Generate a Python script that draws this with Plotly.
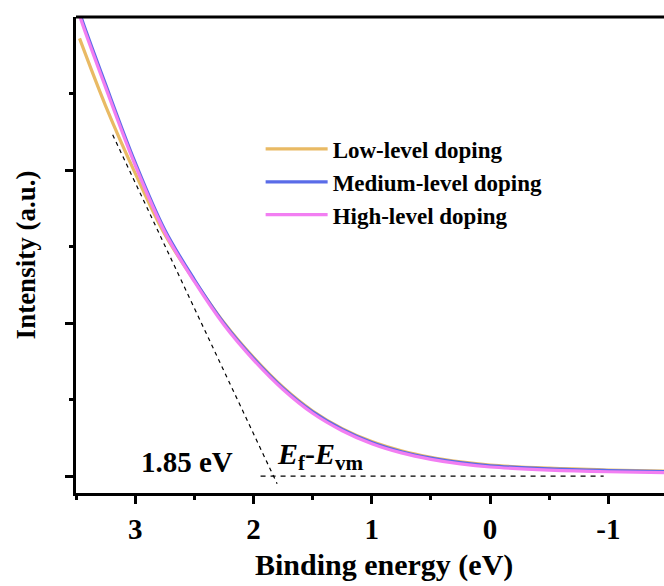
import plotly.graph_objects as go

# Binding energy grid (eV)
energy = [3.49, 3.47, 3.25, 3.0, 2.75, 2.5, 2.25, 2.0, 1.75, 1.5, 1.25, 1.0,
          0.75, 0.5, 0.25, 0.0, -0.5, -1.0, -1.5]

low_level = [None, 2.86, 2.42, 1.98, 1.58, 1.278, 1.004, 0.776, 0.581, 0.426, 0.311,
             0.226, 0.166, 0.123, 0.093, 0.072, 0.052, 0.040, 0.032]
medium_level = [3.09, 3.03, 2.56, 2.05, 1.61, 1.285, 1.0, 0.77, 0.575, 0.42, 0.305,
                0.22, 0.16, 0.118, 0.088, 0.068, 0.048, 0.037, 0.030]
high_level = [3.07, 3.01, 2.54, 2.032, 1.595, 1.272, 0.989, 0.76, 0.566, 0.411, 0.297,
              0.212, 0.152, 0.110, 0.080, 0.060, 0.040, 0.029, 0.023]

series_names = ["Low-level doping", "Medium-level doping", "High-level doping"]
series_colors = ["#E9BA64", "#5A6CE8", "#F27EF2"]

# Tangent / baseline guides (data coordinates)
tangent_x = [3.19, 1.80]
tangent_y = [2.23, -0.05]
base_x = [1.94, -0.96]
base_y = [0.0, 0.0]

x_tickvals = [3, 2, 1, 0, -1]
x_ticktext = ["3", "2", "1", "0", "-1"]

FONT = "Liberation Serif"

fig = go.Figure()

for name, vals, col in zip(series_names, [low_level, medium_level, high_level], series_colors):
    fig.add_trace(go.Scatter(
        x=energy, y=vals, name="<b>" + name + "</b>", mode="lines",
        line=dict(color=col, width=3.2, shape="spline", smoothing=1.0),
        connectgaps=False,
    ))

fig.add_trace(go.Scatter(x=tangent_x, y=tangent_y, mode="lines", showlegend=False,
                         line=dict(color="black", width=1.2, dash="4px,4px")))
fig.add_trace(go.Scatter(x=base_x, y=base_y, mode="lines", showlegend=False,
                         line=dict(color="black", width=1.2, dash="5px,5px")))

fig.update_layout(
    width=664, height=586,
    margin=dict(l=76, r=0, t=17, b=93),
    paper_bgcolor="white", plot_bgcolor="white",
    font=dict(family=FONT, color="black"),
    showlegend=True,
    legend=dict(
        x=0.314, y=0.768, xanchor="left", yanchor="top",
        font=dict(family=FONT, size=23, color="black"),
        bgcolor="rgba(0,0,0,0)", itemwidth=62, tracegroupgap=0,
    ),
    xaxis=dict(
        range=[3.5, -1.47], showgrid=False, zeroline=False,
        showline=True, linecolor="black", linewidth=3,
        ticks="outside", ticklen=8, tickwidth=2.5, tickcolor="black",
        tickvals=x_tickvals, ticktext=["<b>" + t + "</b>" for t in x_ticktext],
        tickfont=dict(family=FONT, size=29, color="black"),
        minor=dict(ticks="outside", ticklen=4, tickwidth=2.5, tickcolor="black", dtick=0.5,
                   showgrid=False),
    ),
    yaxis=dict(
        range=[-0.11, 3.0], showgrid=False, zeroline=False,
        showline=True, linecolor="black", linewidth=3,
        ticks="outside", ticklen=8, tickwidth=2.5, tickcolor="black",
        tickvals=[0, 1, 2], showticklabels=False,
        minor=dict(ticks="outside", ticklen=4, tickwidth=2.5, tickcolor="black",
                   tickvals=[0.5, 1.5, 2.5], showgrid=False),
        title=dict(text="<b>Intensity (a.u.)</b>", standoff=22,
                   font=dict(family=FONT, size=27, color="black")),
    ),
    shapes=[dict(type="line", xref="paper", yref="paper", x0=0, x1=1, y0=1, y1=1,
                 line=dict(color="black", width=3))],
    annotations=[
        dict(text="<b>Binding energy (eV)</b>", xref="paper", yref="paper",
             x=0.524, y=-0.151, xanchor="center", yanchor="middle", showarrow=False,
             font=dict(family=FONT, size=30, color="black")),
        dict(text="<b>1.85 eV</b>", xref="x", yref="y", x=2.56, y=0.09,
             xanchor="center", yanchor="middle", showarrow=False,
             font=dict(family=FONT, size=29, color="black")),
        dict(text="<b><i>E</i><sub>f</sub>-<i>E</i><sub>vm</sub></b>", xref="x", yref="y",
             x=1.82, y=0.13, xanchor="left", yanchor="middle", showarrow=False,
             font=dict(family=FONT, size=30, color="black")),
    ],
)

fig.write_html("out.html")
